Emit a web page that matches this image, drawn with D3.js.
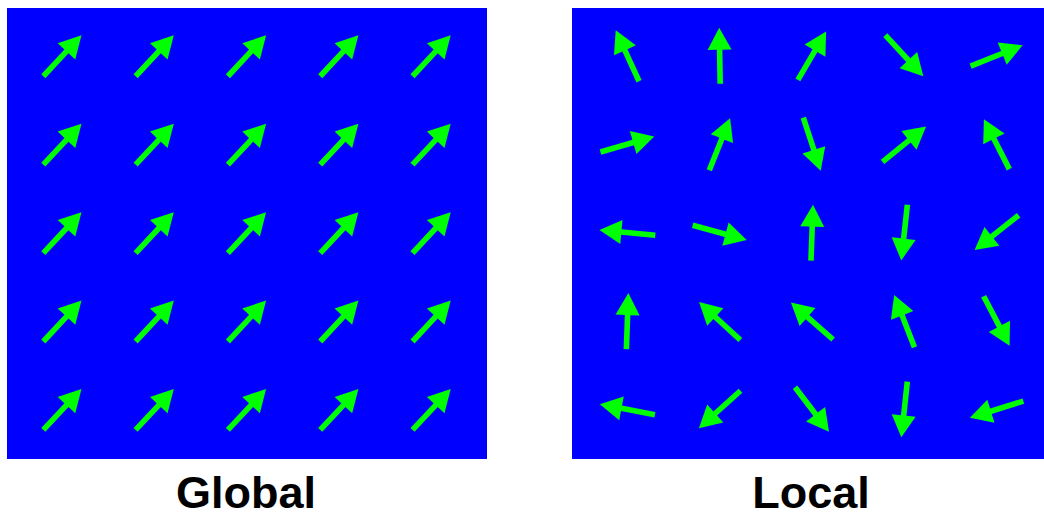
<!DOCTYPE html>
<html>
<head>
<meta charset="utf-8">
<script src="https://cdn.jsdelivr.net/npm/d3@7"></script>
<style>
  html, body { margin: 0; padding: 0; background: #fff; }
  svg { display: block; }
</style>
</head>
<body>
<svg id="chart" width="1044" height="512"></svg>
<script>
// Grid indices (5 x 5)
const cols = [0, 1, 2, 3, 4];
const rows = [0, 1, 2, 3, 4];

// Panel titles
const panelTitles = ["Global", "Local"];

// Arrow directions in degrees (counter-clockwise from east), row by row from top
const globalAngles = [
  47, 47, 47, 47, 47,
  47, 47, 47, 47, 47,
  47, 47, 47, 47, 47,
  47, 47, 47, 47, 47,
  47, 47, 47, 47, 47
];
const localAngles = [
  114.6, 91, 59.7, -47.2, 21.8,
  16.1, 68.2, -71.9, 39, 117,
  174.6, -15.1, 87.9, -96.3, -141.8,
  87.9, 137.4, 138.8, 111.2, -62.4,
  169.3, -138, -52.7, -96.2, -162.6
];

const svg = d3.select("#chart");
const panelW = 480, panelH = 451, panelTop = 8;
const panelLefts = [7, 572];
const arrowLen = 56, shaftHalf = 2.8, headLen = 22, headHalf = 12;

const arrowPath = (() => {
  const a = -arrowLen / 2, b = arrowLen / 2, h = b - headLen;
  return `M${a},${-shaftHalf}L${h},${-shaftHalf}L${h},${-headHalf}L${b},0L${h},${headHalf}L${h},${shaftHalf}L${a},${shaftHalf}Z`;
})();

const panels = [globalAngles, localAngles];
panels.forEach((angles, p) => {
  const x0 = panelLefts[p];
  const x = d3.scaleLinear().domain([-0.6, 4.6]).range([x0, x0 + panelW]);
  const y = d3.scaleLinear().domain([-0.54, 4.56]).range([panelTop, panelTop + panelH]);
  const g = svg.append("g");
  g.append("rect")
    .attr("x", x0).attr("y", panelTop)
    .attr("width", panelW).attr("height", panelH)
    .attr("fill", "#0000ff");
  const data = [];
  rows.forEach(r => cols.forEach(c => data.push({ r, c, a: angles[r * 5 + c] })));
  g.selectAll("path.arrow").data(data).join("path")
    .attr("class", "arrow")
    .attr("d", arrowPath)
    .attr("fill", "#00ff00")
    .attr("transform", d => `translate(${x(d.c)},${y(d.r)}) rotate(${-d.a})`);
  svg.append("text")
    .attr("x", x0 + panelW / 2 - 1)
    .attr("y", 508)
    .attr("text-anchor", "middle")
    .attr("font-family", "Liberation Sans, Arial, sans-serif")
    .attr("font-weight", "bold")
    .attr("font-size", 45)
    .attr("fill", "#000")
    .text(panelTitles[p]);
});
</script>
</body>
</html>
